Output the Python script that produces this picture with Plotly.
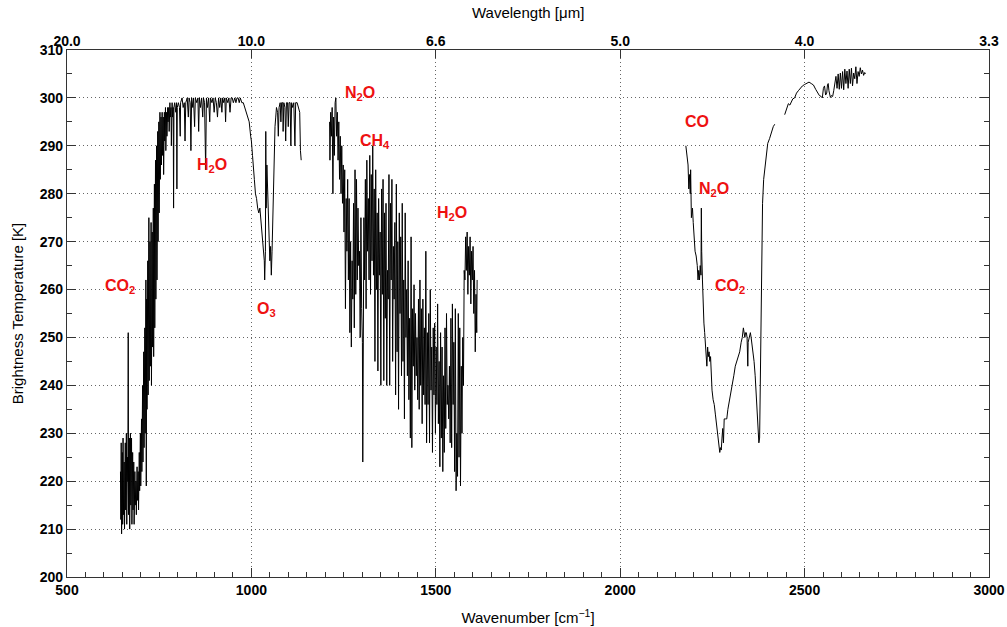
import plotly.graph_objects as go

# ---------------- data ----------------
seg1_wn = [645,646,647,648,650,651,652,653,655,656,658,659,661,662,664,665,666,667,669,670,
           672,673,675,676,678,679,681,682,684,685,687,688,690,691,693,694,696,697,699,700,
           702,703,705,706,708,709,711,712,714,715,716,717,719,720,722,723,725,726,728,729,
           731,732,734,735,737,738,740,741,743,744,746,747,749,750,752,753,755,756,758,759,
           761,762,764,765,767,768,770,771,773,774,776,777,779,780,782,783,785,786,788,789,
           790,792,795,797,798,799,802,805,807,808,812,815,818,820,822,826,829,831,834,836,
           838,841,843,846,848,852,855,857,859,862,865,868,870,873,876,878,881,884,887,889,
           893,896,899,902,905,908,911,914,917,920,922,925,928,930,932,936,939,942,945,948,
           951,955,958,961,964,967,970,974,978,982,986,990,994,998,1000,1003,1005,1008,1011,1014,
           1017,1020,1023,1025,1027,1029,1031,1033,1035,1036,1037,1038,1039,1040,1042,1044,1046,1048,1050,1052,
           1054,1056,1058,1060,1062,1064,1066,1068,1071,1073,1075,1078,1080,1082,1085,1086,1088,1091,1093,1095,
           1098,1100,1102,1105,1107,1109,1112,1115,1118,1120,1124,1128,1131,1133,1135]
seg1_T = [222,212,228,209,226,211,229,213,224,210,228,214,230,211,225,220,251,213,229,210,
          230,215,229,211,226,214,224,211,222,215,220,213,223,216,222,214,226,218,230,219,
          233,222,240,224,247,227,252,230,262,219,258,235,266,238,275,241,270,244,274,240,
          272,248,277,246,282,252,287,258,290,262,293,270,295,276,297,283,296,286,297,288,
          296,284,297,291,298,289,297,292,298,295,298,293,299,296,298,290,299,296,298,277,
          298,299,297,299,281,298,299,298,292,299,300,298,299,291,299,300,296,300,299,289,
          300,298,300,294,300,299,300,293,300,298,300,296,300,299,285,300,298,300,295,300,
          299,300,297,300,299,296,300,298,300,297,300,299,300,295,300,299,300,297,300,300,
          299,300,299,300,300,299,300,299,299,298,297,296,295,292,291,288,285,283,280,279,
          277,276,277,275,275,273,271,268,266,262,264,268,293,277,286,281,275,272,266,269,
          263,268,276,284,288,294,296,298,297,292,298,299,295,299,299,293,299,298,291,299,
          299,294,299,299,290,299,298,299,290,299,299,298,297,289,287]

seg2_wn = [1212,1213,1215,1217,1219,1221,1223,1225,1227,1229,1231,1233,1235,1237,1239,1241,1243,1245,1247,1249,
           1251,1253,1255,1257,1259,1261,1263,1265,1267,1269,1271,1273,1275,1277,1279,1281,1283,1285,1287,1289,
           1291,1293,1295,1297,1299,1301,1302,1303,1305,1307,1309,1311,1313,1315,1317,1319,1321,1323,1325,1327,
           1329,1331,1333,1335,1337,1339,1341,1343,1345,1347,1349,1351,1353,1355,1357,1359,1361,1363,1365,1367,
           1369,1371,1373,1375,1377,1379,1381,1383,1385,1387,1389,1391,1393,1395,1397,1399,1401,1403,1405,1407,
           1409,1411,1413,1415,1417,1419,1421,1423,1425,1427,1429,1431,1433,1435,1437,1439,1441,1443,1445,1447,
           1449,1451,1453,1455,1457,1459,1461,1463,1465,1467,1469,1471,1473,1475,1477,1479,1481,1483,1485,1487,
           1489,1491,1493,1495,1497,1499,1501,1503,1505,1507,1509,1511,1513,1515,1517,1519,1521,1523,1525,1527,
           1529,1531,1533,1535,1537,1539,1541,1543,1545,1547,1549,1551,1553,1555,1557,1559,1561,1563,1565,1567,
           1569,1571,1573,1575,1577,1579,1581,1583,1585,1587,1589,1591,1593,1595,1597,1599,1601,1603,1605,1607,
           1609,1611,1612]
seg2_T = [295,287,297,292,298,280,296,288,299,300,292,297,287,295,283,292,280,290,278,286,
          272,285,256,279,268,283,262,279,251,270,248,266,258,278,252,285,259,283,262,277,
          265,268,250,275,256,249,224,262,275,262,283,256,287,268,279,262,288,259,284,266,
          290,263,281,245,285,260,276,243,279,263,272,240,281,259,283,241,276,254,278,240,
          264,258,284,240,278,262,283,245,269,258,274,238,282,247,270,235,276,255,271,242,
          278,245,262,233,276,250,260,242,266,237,254,229,271,227,256,244,261,239,255,242,
          250,237,258,235,262,240,256,232,258,238,252,236,268,228,251,236,255,228,260,239,
          248,226,252,238,253,230,248,236,257,232,245,223,251,229,248,222,242,226,252,231,
          255,236,240,233,244,228,254,227,257,236,249,222,256,218,230,221,255,225,252,219,
          244,230,250,240,264,262,271,264,272,259,269,263,271,257,268,262,269,255,264,247,
          259,251,262]

seg3_wn = [2178,2181,2184,2186,2188,2190,2191,2193,2196,2198,2201,2203,2206,2209,2211,2213,2215,2217,2219,2220,
           2221,2223,2225,2227,2229,2231,2233,2235,2237,2239,2241,2243,2245,2247,2249,2252,2255,2258,2261,2264,
           2267,2270,2272,2274,2276,2278,2280,2282,2285,2289,2292,2296,2300,2304,2308,2312,2316,2320,2324,2328,
           2331,2334,2336,2338,2340,2342,2344,2346,2347,2349,2351,2353,2355,2357,2360,2363,2366,2369,2372,2374,
           2376,2378,2380,2382,2384,2386,2389,2392,2396,2400,2405,2410,2415,2419,None,
           2446,2450,2453,2456,2460,2464,2468,2473,2478,2483,2488,2494,2500,2506,2512,2518,2524,2530,2535,2540,
           2545,2548,2551,2554,2557,2560,2562,2564,2566,2568,2570,2573,2576,2579,2582,2585,2588,2591,2594,2597,
           2600,2603,2606,2609,2612,2615,2618,2621,2624,2627,2630,2633,2636,2639,2642,2645,2648,2651,2654,2657,
           2660,2663,2665]
seg3_T = [290,288,286,281,284,280,285,275,277,274,270,268,267,265,262,264,262,265,263,277,
          268,262,256,253,251,248,247,244,248,246,247,245,246,241,239,237,236,234,232,230,
          228,226,227,226.5,229,231,228,233,233,233,235,237,238,240,242,244,245,246,247,249,
          250,252,251,250,251,251,250,244,249,250,251,251,250,249,247,245,242,238,235,232,
          228,229,240,260,272,278,283,285.5,288,290.5,291.5,293,294,294.5,None,
          296.5,297.5,298,298.8,298.5,299,299.8,300,301,301.5,302,302.5,302.8,303,303.3,303,302.7,301.8,301,300.5,
          300.3,300,302,302.5,300.6,301,302.7,303,301.5,300.5,300.1,300.5,300.3,301.5,303,304.5,302,305,301.8,305.2,
          302,305.5,301.7,306,303,305.6,302,306,303,306.2,302.5,305.2,304,306.5,303,305.5,304.5,306.3,305,305.8,
          304.7,305.3,305]

x_ticks = [500, 1000, 1500, 2000, 2500, 3000]
x_tick_labels = ["500", "1000", "1500", "2000", "2500", "3000"]
wl_tick_labels = ["20.0", "10.0", "6.6", "5.0", "4.0", "3.3"]
y_ticks = [200, 210, 220, 230, 240, 250, 260, 270, 280, 290, 300, 310]

label_text = ["CO<sub>2</sub>", "H<sub>2</sub>O", "O<sub>3</sub>", "N<sub>2</sub>O", "CH<sub>4</sub>",
              "H<sub>2</sub>O", "CO", "N<sub>2</sub>O", "CO<sub>2</sub>"]
label_wn = [597, 847, 1010, 1248, 1289, 1498, 2170, 2208, 2251]
label_T = [260.6, 285.8, 255.8, 300.9, 290.8, 275.8, 295.0, 280.8, 260.6]

# ---------------- figure ----------------
fig = go.Figure()
line_style = dict(color="black", width=1)
for wn, T in [(seg1_wn, seg1_T), (seg2_wn, seg2_T), (seg3_wn, seg3_T)]:
    fig.add_trace(go.Scatter(x=wn, y=T, mode="lines", line=line_style,
                             showlegend=False, hoverinfo="skip", connectgaps=False))
# helper trace for the top (wavelength) axis
fig.add_trace(go.Scatter(x=[x_ticks[0], x_ticks[-1]], y=[None, None], xaxis="x2",
                         mode="lines", showlegend=False, hoverinfo="skip"))

FONT = "Liberation Sans, Arial, sans-serif"
tick_font = dict(family=FONT, size=14, color="black", weight="bold")
title_font = dict(family=FONT, size=15, color="black")

for txt, xw, yt in zip(label_text, label_wn, label_T):
    fig.add_annotation(x=xw, y=yt, text=txt, showarrow=False, xanchor="left", yanchor="middle",
                       font=dict(family=FONT, size=16, color="#ee1111", weight="bold"))

# title of the top (wavelength) axis
fig.add_annotation(x=0.5, y=1, xref="paper", yref="paper", text="Wavelength [μm]",
                   showarrow=False, xanchor="center", yanchor="middle", yshift=38, font=title_font)

GRID = dict(showgrid=True, gridcolor="#666", griddash="1px,3px", gridwidth=1)

fig.update_layout(
    width=1007, height=627,
    margin=dict(l=67, r=18, t=50, b=50, autoexpand=False),
    paper_bgcolor="white", plot_bgcolor="white",
    xaxis=dict(range=[500, 3000], tickvals=x_ticks, ticktext=x_tick_labels, automargin=False,
               ticks="inside", ticklen=9, tickcolor="#333", mirror=True,
               showline=True, linecolor="#333", linewidth=1.2, zeroline=False,
               minor=dict(dtick=50, tick0=500, ticks="inside", ticklen=5, tickcolor="#333", showgrid=False),
               tickfont=tick_font,
               title=dict(text="Wavenumber [cm<sup>−1</sup>]", font=title_font, standoff=15),
               **GRID),
    xaxis2=dict(range=[500, 3000], overlaying="x", side="top", tickvals=x_ticks, automargin=False,
                ticktext=wl_tick_labels, ticks="inside", ticklen=8, tickcolor="#333",
                showgrid=False, tickfont=tick_font,
                showline=False, zeroline=False),
    yaxis=dict(range=[200, 310], tickvals=y_ticks, automargin=False,
               ticks="inside", ticklen=9, tickcolor="#333", mirror="ticks",
               showline=True, linecolor="#333", linewidth=1.2, zeroline=False,
               minor=dict(dtick=5, tick0=200, ticks="inside", ticklen=5, tickcolor="#333", showgrid=False),
               tickfont=tick_font,
               title=dict(text="Brightness Temperature [K]", font=title_font, standoff=12),
               **GRID),
)

# remove the page's default body margin so the 1007x627 figure fills the window exactly
fig.write_html("out.html", config={"displayModeBar": False},
               post_script="document.body.style.margin='0';document.body.style.overflow='hidden';")
